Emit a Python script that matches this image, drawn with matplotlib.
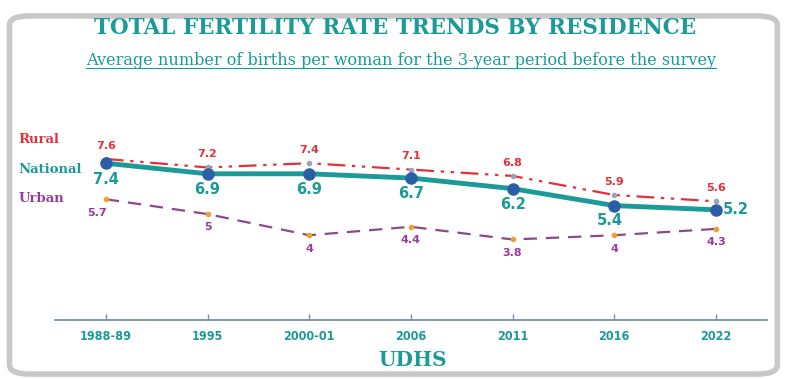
import matplotlib.pyplot as plt
from matplotlib.patches import FancyBboxPatch

years = ['1988-89', '1995', '2000-01', '2006', '2011', '2016', '2022']
rural = [7.6, 7.2, 7.4, 7.1, 6.8, 5.9, 5.6]
national = [7.4, 6.9, 6.9, 6.7, 6.2, 5.4, 5.2]
urban = [5.7, 5, 4, 4.4, 3.8, 4, 4.3]

teal = '#1b9a97'
red = '#e5303a'
purple = '#9a3a9a'
navy = '#2c5ea8'

fig = plt.figure(figsize=(7.9, 3.79), dpi=100)

# rounded frame behind everything
frame = FancyBboxPatch((0.012, 0.013), 0.972, 0.945, boxstyle='round,pad=0,rounding_size=0.025',
                       transform=fig.transFigure, facecolor='white', edgecolor='#c8c8c8', lw=4,
                       zorder=-10)
fig.patches.append(frame)

ax = fig.add_axes([0.0696, 0.1557, 0.901, 0.559])
ax.patch.set_alpha(0)
x = list(range(len(years)))

ax.plot(x, rural, color=red, lw=1.6, dashes=[8, 3, 1.5, 3, 1.5, 3], zorder=2)
ax.plot(x, rural, 'o', color='#9aa4b4', ms=3, zorder=3)
ax.plot(x, urban, color='#8c4a8c', lw=1.6, dashes=[6, 4], zorder=2)
ax.plot(x, urban, 'o', color='#f0a030', ms=3, zorder=3)
ax.plot(x, national, color=teal, lw=3.5, zorder=4)
ax.plot(x, national, 'o', color=navy, ms=8, zorder=5)

for i, v in enumerate(rural):
    ax.annotate(f'{v:g}', (i, v), xytext=(0, 6), textcoords='offset points', ha='center', va='bottom',
                color=red, fontsize=8, fontweight='bold')
for i, v in enumerate(national):
    if i == 6:
        ax.annotate(f'{v:g}', (i, v), xytext=(5, 0), textcoords='offset points', ha='left', va='center',
                    color=teal, fontsize=10.5, fontweight='bold')
    elif i == 5:
        ax.annotate(f'{v:g}', (i, v), xytext=(-3, -5), textcoords='offset points', ha='center', va='top',
                    color=teal, fontsize=10.5, fontweight='bold')
    else:
        ax.annotate(f'{v:g}', (i, v), xytext=(0, -6), textcoords='offset points', ha='center', va='top',
                    color=teal, fontsize=10.5, fontweight='bold')
for i, v in enumerate(urban):
    dx = -6 if i == 0 else 0
    ax.annotate(f'{v:g}', (i, v), xytext=(dx, -6), textcoords='offset points', ha='center', va='top',
                color=purple, fontsize=8, fontweight='bold')

ax.set_xlim(-0.5, 6.5)
ax.set_ylim(0, 10)
ax.set_yticks([])
ax.set_xticks(x)
ax.set_xticklabels(years, color=teal, fontsize=9, fontweight='bold', fontstretch='condensed',
                   family=['Liberation Sans Narrow', 'DejaVu Sans'])
ax.tick_params(axis='x', direction='in', length=4, width=1, color='#7a90a8', pad=7)
for s in ['top', 'right', 'left']:
    ax.spines[s].set_visible(False)
ax.spines['bottom'].set_color('#7a90a8')
ax.spines['bottom'].set_linewidth(1.3)

serif = ['DejaVu Serif']
fig.text(0.5, 0.927, 'TOTAL FERTILITY RATE TRENDS BY RESIDENCE', ha='center', va='center',
         color=teal, fontsize=15.5, fontweight='bold', family=serif)
sub = fig.text(0.508, 0.84, 'Average number of births per woman for the 3-year period before the survey',
               ha='center', va='center', color=teal, fontsize=11.6, family=serif)
fig.canvas.draw()
bb = sub.get_window_extent().transformed(fig.transFigure.inverted())
fig.add_artist(plt.Line2D([bb.x0, bb.x1], [bb.y0 + 0.004, bb.y0 + 0.004], color=teal, lw=0.8,
                          transform=fig.transFigure))

fig.text(0.023, 0.632, 'Rural', color=red, fontsize=9.5, fontweight='bold', va='center', family=serif)
fig.text(0.023, 0.552, 'National', color=teal, fontsize=9.5, fontweight='bold', va='center', family=serif)
fig.text(0.023, 0.477, 'Urban', color=purple, fontsize=9.5, fontweight='bold', va='center', family=serif)

fig.text(0.523, 0.05, 'UDHS', ha='center', va='center', color=teal, fontsize=14.5, fontweight='bold',
         family=serif)

plt.savefig('out.png', dpi=100)
